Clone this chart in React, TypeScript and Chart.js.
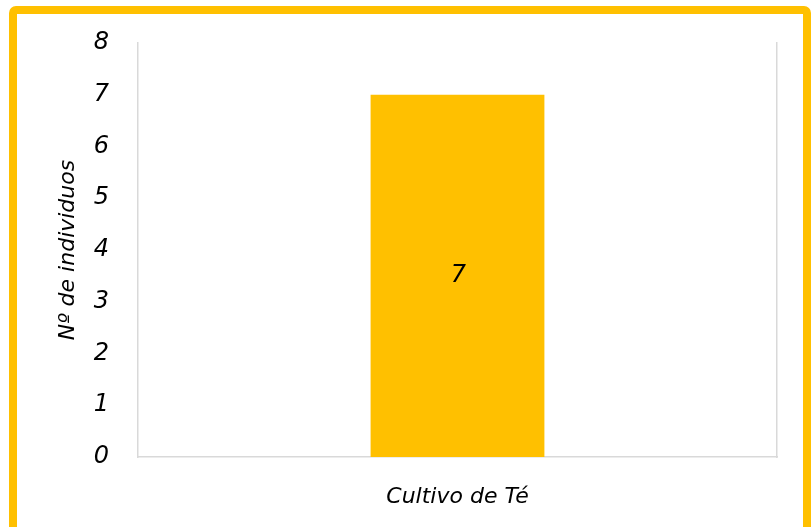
import React, { useEffect, useRef } from "react";
import { Chart, registerables } from "chart.js";

Chart.register(...registerables);

const categories: string[] = ["Cultivo de Té"];
const individuos: number[] = [7];
const yTicks: number[] = [0, 1, 2, 3, 4, 5, 6, 7, 8];
const yTitle = "Nº de individuos";

const FONT = "'DejaVu Sans', sans-serif";

const valueLabels = {
  id: "valueLabels",
  afterDatasetsDraw(chart: any) {
    const ctx = chart.ctx;
    const meta = chart.getDatasetMeta(0);
    const data = chart.data.datasets[0].data;
    ctx.save();
    ctx.font = `oblique 24px ${FONT}`;
    ctx.fillStyle = "#000000";
    ctx.textAlign = "center";
    ctx.textBaseline = "middle";
    meta.data.forEach((el: any, i: number) => {
      const { x, y, base } = el.getProps(["x", "y", "base"], true);
      ctx.fillText(String(data[i]), x + 1, (y + base) / 2);
    });
    ctx.restore();
  },
};

export default function App() {
  const ref = useRef<HTMLCanvasElement | null>(null);
  useEffect(() => {
    if (!ref.current) return;
    const chart = new Chart(ref.current, {
      type: "bar",
      data: {
        labels: categories,
        datasets: [
          {
            data: individuos,
            backgroundColor: "#FFC000",
            borderWidth: 0,
            barPercentage: 0.272,
            categoryPercentage: 1,
          },
        ],
      },
      options: {
        responsive: false,
        animation: false,
        layout: { padding: { top: 43, right: 35, left: 0, bottom: 0 } },
        plugins: { legend: { display: false }, tooltip: { enabled: false } },
        scales: {
          x: {
            grid: { display: false },
            border: { display: true, color: "#d9d9d9", width: 1.5 },
            ticks: {
              color: "#000000",
              padding: 19,
              font: { family: FONT, size: 22, style: "oblique" as any },
            },
            afterFit(scale: any) {
              scale.height = 70;
            },
          },
          y: {
            min: 0,
            max: 8,
            afterBuildTicks(scale: any) {
              scale.ticks = yTicks.map((v) => ({ value: v }));
            },
            grid: { display: false },
            border: { display: true, color: "#d9d9d9", width: 1.5 },
            ticks: {
              color: "#000000",
              padding: 21,
              font: { family: FONT, size: 24, style: "oblique" as any },
            },
            title: {
              display: true,
              text: yTitle,
              color: "#000000",
              padding: { top: 55, bottom: 0 },
              font: { family: FONT, size: 22, style: "oblique" as any },
            },
            afterFit(scale: any) {
              scale.width = 138;
            },
          },
          y2: {
            position: "right",
            min: 0,
            max: 8,
            grid: { display: false },
            border: { display: true, color: "#d9d9d9", width: 1.5 },
            ticks: { display: false },
            afterFit(scale: any) {
              scale.width = 0;
            },
          },
        },
      },
      plugins: [valueLabels],
    });
    return () => chart.destroy();
  }, []);

  return (
    <div
      style={{
        position: "fixed",
        left: 0,
        top: 0,
        width: 812,
        height: 527,
        overflow: "hidden",
        background: "#ffffff",
      }}
    >
      <canvas
        ref={ref}
        width={812}
        height={527}
        style={{ position: "absolute", left: 0, top: 0, width: 812, height: 527 }}
      />
      <div
        style={{
          position: "absolute",
          left: 9,
          top: 6,
          width: 802,
          height: 560,
          boxSizing: "border-box",
          border: "8px solid #FFC000",
          borderRadius: 7,
          pointerEvents: "none",
        }}
      />
    </div>
  );
}
